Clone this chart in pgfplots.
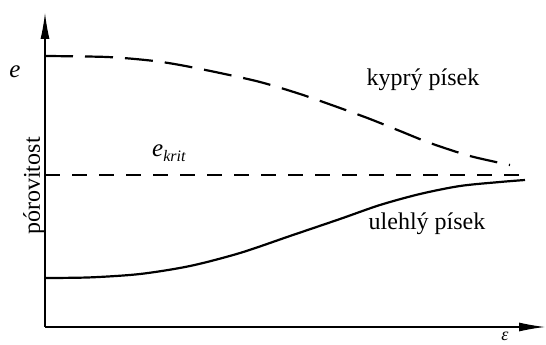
\documentclass[border=0pt]{standalone}
\usepackage{pgfplots}
\pgfplotsset{compat=1.18}
\usepackage{fontspec}
\setmainfont{Liberation Serif}
\usetikzlibrary{arrows.meta}
\begin{document}
\begin{tikzpicture}
\useasboundingbox (-45pt,-18pt) rectangle (501pt,327pt);
\begin{axis}[
  at={(0,0)}, anchor=south west,
  scale only axis, width=500pt, height=314pt,
  xmin=0, xmax=500, ymin=0, ymax=314,
  axis lines=left,
  axis line style={line width=1.1pt, -{Latex[length=26pt,width=9pt]}},
  xtick=\empty, ytick=\empty,
  clip=false,
]
% upper (loose sand) dashed curve
\addplot[black, line width=2.2pt, smooth, dash pattern=on 28pt off 12pt] coordinates {
 (0,271) (62,270) (105,266.5) (135,262) (175,254) (215,245) (255,233)
 (295,219) (325,208) (355,196) (385,184) (425,171) (465,162)};
% critical void ratio
\addplot[black, line width=1.5pt, dash pattern=on 15pt off 12pt] coordinates {
 (0,152) (482,152)};
% lower (dense sand) solid curve
\addplot[black, line width=2.2pt, smooth] coordinates {
 (0,49) (45,49.6) (95,53) (145,61) (195,74) (245,91) (295,108)
 (335,122) (375,133) (415,141) (455,145) (480,147)};
\node[font=\fontsize{25}{28}\selectfont\itshape] at (axis cs:-30,255) {e};
\node[font=\fontsize{24}{28}\selectfont, rotate=90] at (axis cs:-11,141) {pórovitost};
\node[anchor=base west, font=\fontsize{25}{28}\selectfont\itshape, inner sep=0pt] at (axis cs:107,170) {e\raisebox{-5pt}{\fontsize{16}{16}\selectfont krit}};
\node[anchor=base, font=\fontsize{24}{28}\selectfont, inner sep=0pt] at (axis cs:378,241) {kyprý písek};
\node[anchor=base, font=\fontsize{24}{28}\selectfont, inner sep=0pt] at (axis cs:382,97) {ulehlý písek};
\node[anchor=north, font=\fontsize{18}{20}\selectfont\itshape, inner sep=0pt] at (axis cs:460,-5) {ε};
\end{axis}
\end{tikzpicture}
\end{document}
